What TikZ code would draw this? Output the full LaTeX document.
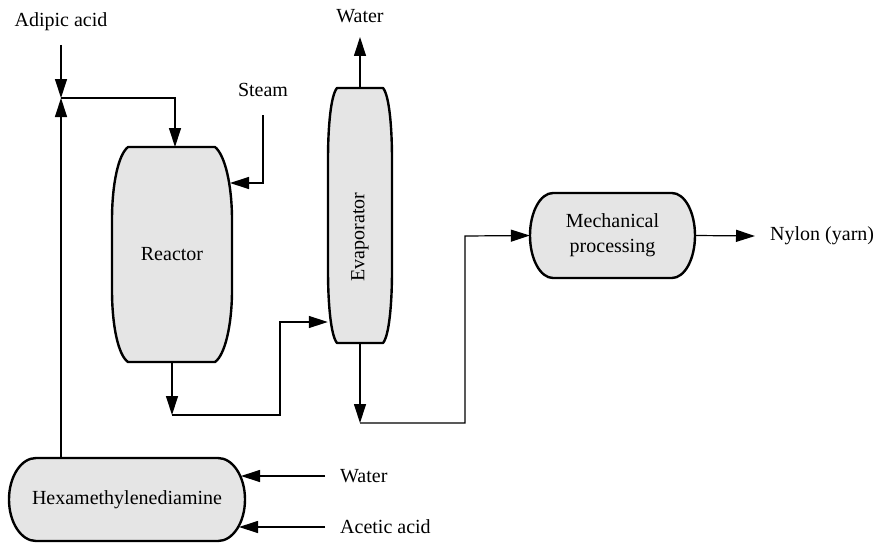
\documentclass[tikz,border=0pt]{standalone}
\usepackage{fontspec}
\setmainfont{Liberation Serif}
\usetikzlibrary{arrows.meta}
\definecolor{boxfill}{HTML}{E5E5E5}
\tikzset{
  conn/.style={line width=1.2pt},
  arr/.style={conn,-{Triangle[length=19pt,width=12pt]}},
  vessel/.style={line width=2.4pt,fill=boxfill,line join=round},
  txt/.style={font=\fontsize{20}{25}\selectfont,inner sep=0pt,align=center}
}
\begin{document}
\begin{tikzpicture}[x=1pt,y=-1pt]
\useasboundingbox (0,0) rectangle (875,543);
% vessel outlines
\draw[vessel] (128,147) -- (215,147)
  .. controls (225,155) and (232,185) .. (232,220) -- (232,290)
  .. controls (232,325) and (225,355) .. (215,362) -- (128,362)
  .. controls (118,355) and (112,325) .. (112,290) -- (112,220)
  .. controls (112,185) and (118,155) .. (128,147) -- cycle;
\draw[vessel] (337,88) -- (383,88)
  .. controls (389,95) and (392,125) .. (392,160) -- (392,270)
  .. controls (392,305) and (389,336) .. (383,343) -- (337,343)
  .. controls (331,336) and (328,305) .. (328,270) -- (328,160)
  .. controls (328,125) and (331,95) .. (337,88) -- cycle;
% stadium outlines with elliptical ends
\draw[vessel] (553,193) -- (672,193)
  arc[start angle=-90,end angle=90,x radius=23,y radius=42.5]
  -- (553,278)
  arc[start angle=90,end angle=270,x radius=23,y radius=42.5] -- cycle;
\draw[vessel] (36,458) -- (218,458)
  arc[start angle=-90,end angle=90,x radius=27,y radius=41.5]
  -- (36,541)
  arc[start angle=90,end angle=270,x radius=27,y radius=41.5] -- cycle;
% nodes
\node[txt,minimum width=120pt,minimum height=215pt] (reactor) at (172,254.5) {Reactor};
\node[txt,minimum width=64pt,minimum height=255pt] (evap) at (360,215.5) {};
\node[txt,rotate=90] (evaplabel) at (360,237) {Evaporator};
\node[txt,minimum width=165pt,minimum height=85pt] (mech) at (612.5,235.5) {Mechanical\\processing};
\node[txt,minimum width=236pt,minimum height=83pt] (hex) at (127,499.5) {Hexamethylenediamine};
% labels
\node[txt] (adip) at (61,22) {Adipic acid};
\node[txt] (steam) at (263,90) {Steam};
\node[txt] (wtr1) at (360,16) {Water};
\node[txt,anchor=west] (nylon) at (770,236) {Nylon (yarn)};
\node[txt,anchor=west] (wtr2) at (340,476) {Water};
\node[txt,anchor=west] (acet) at (340,527) {Acetic acid};
% coordinates
\coordinate (adipS) at (61,45);
\coordinate (j) at (61,98);
\coordinate (rtop) at (175,147);
\coordinate (stS) at (263,115);
\coordinate (rin) at (230,183);
\coordinate (c1) at (172,415);
\coordinate (k1) at (280,322);
\coordinate (wtop) at (360,37);
\coordinate (c2) at (360,423);
\coordinate (k2) at (465,236);
\coordinate (nyl) at (755,236);
\coordinate (w2S) at (325,476);
\coordinate (w2E) at (241,476);
\coordinate (a2S) at (325,527);
\coordinate (a2E) at (239,527);
% connectors
\draw[arr] (adipS) -- (j);
\draw[arr] (hex.north -| j) -- (j);
\draw[arr] (j) -| (rtop);
\draw[arr] (stS) |- (rin);
\draw[arr] (reactor.south) -- (c1);
\draw[arr] (c1) -| (k1) -- (evap.west |- k1);
\draw[arr] (evap.north) -- (wtop);
\draw[arr] (evap.south) -- (c2);
\draw[arr] (c2) -| (k2) -- (mech.west);
\draw[arr] (mech.east) -- (nyl);
\draw[arr] (w2S) -- (w2E);
\draw[arr] (a2S) -- (a2E);
\end{tikzpicture}
\end{document}
